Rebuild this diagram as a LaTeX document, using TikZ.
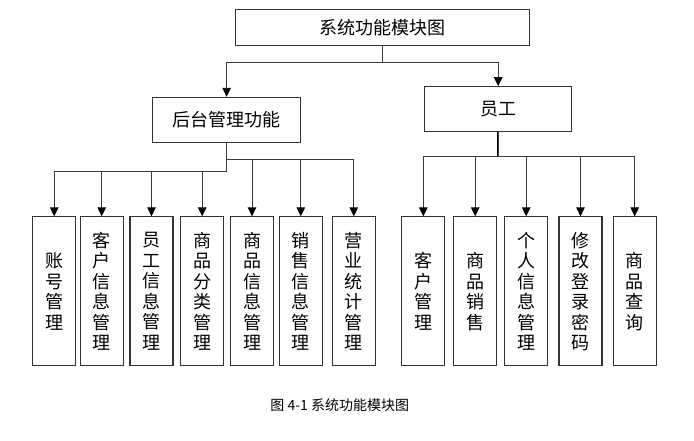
\documentclass[tikz,border=0pt]{standalone}
\usepackage{fontspec}
\usepackage{xcolor}
\usetikzlibrary{positioning, arrows.meta, calc}
\newfontfamily\cjk{Noto Sans CJK SC}
\definecolor{frame}{HTML}{333333}
\definecolor{wire}{HTML}{3a3a3a}

\begin{document}
\begin{tikzpicture}[x=1pt, y=-1pt, font=\cjk,
    topbox/.style={draw=frame, line width=1.1pt, inner sep=0pt, font=\cjk\fontsize{18}{20}\selectfont},
    colbox/.style={draw=frame, line width=1.1pt, inner sep=0pt, minimum width=43pt, minimum height=149pt,
                   align=center, font=\cjk\fontsize{18}{20.5}\selectfont},
    arr/.style={-{Triangle[length=9pt, width=8.5pt, color=black]}, line width=0.9pt, wire}]
  \useasboundingbox (0,0) rectangle (694,440);

  % top level
  \node[topbox, minimum width=294pt, minimum height=36.4pt] (title) at (382.4,27.5) {系统功能模块图};
  \node[topbox, minimum width=147.5pt, minimum height=45.3pt] (mgmt) at (226.6,120) {后台管理功能};
  \node[topbox, minimum width=146.7pt, minimum height=45pt] (staff) at (498.2,109.2) {员工};

  % back-office modules
  \node[colbox] (m1) at (54.2,291.4) {账\\号\\管\\理};
  \node[colbox] (m2) at (101.7,291.4) {客\\户\\信\\息\\管\\理};
  \node[colbox] (m3) at (151.5,291.4) {员\\工\\信\\息\\管\\理};
  \node[colbox] (m4) at (202.2,291.4) {商\\品\\分\\类\\管\\理};
  \node[colbox] (m5) at (252,291.4) {商\\品\\信\\息\\管\\理};
  \node[colbox] (m6) at (300.8,291.4) {销\\售\\信\\息\\管\\理};
  \node[colbox] (m7) at (353.8,291.4) {营\\业\\统\\计\\管\\理};

  % staff modules
  \node[colbox] (s1) at (423.3,291.4) {客\\户\\管\\理};
  \node[colbox] (s2) at (475.2,291.4) {商\\品\\销\\售};
  \node[colbox] (s3) at (526.2,291.4) {个\\人\\信\\息\\管\\理};
  \node[colbox] (s4) at (580.5,291.4) {修\\改\\登\\录\\密\\码};
  \node[colbox] (s5) at (634.7,291.4) {商\\品\\查\\询};

  % bus levels
  \coordinate (tbus) at (0,62.3);
  \coordinate (lbusa) at (0,171);
  \coordinate (lbusb) at (0,159.3);
  \coordinate (rbus) at (0,156.7);

  \draw[arr] (title.south) -- (title.south |- tbus) -| (mgmt.north);
  \draw[arr] (title.south) -- (title.south |- tbus) -| (staff.north);

  \foreach \m in {m1,m2,m3,m4}
    \draw[arr] (mgmt.south) -- (mgmt.south |- lbusa) -| (\m.north);
  \foreach \m in {m5,m6,m7}
    \draw[arr] (mgmt.south) -- (mgmt.south |- lbusb) -| (\m.north);
  \draw[line width=1.8pt, black] (staff.south) -- (staff.south |- rbus);
  \foreach \s in {s1,s2,s3,s4,s5}
    \draw[arr] (staff.south) -- (staff.south |- rbus) -| (\s.north);

  \node[font=\cjk\fontsize{14}{16}\selectfont] (caption) at (339.7,405) {图 4-1 系统功能模块图};
\end{tikzpicture}
\end{document}
